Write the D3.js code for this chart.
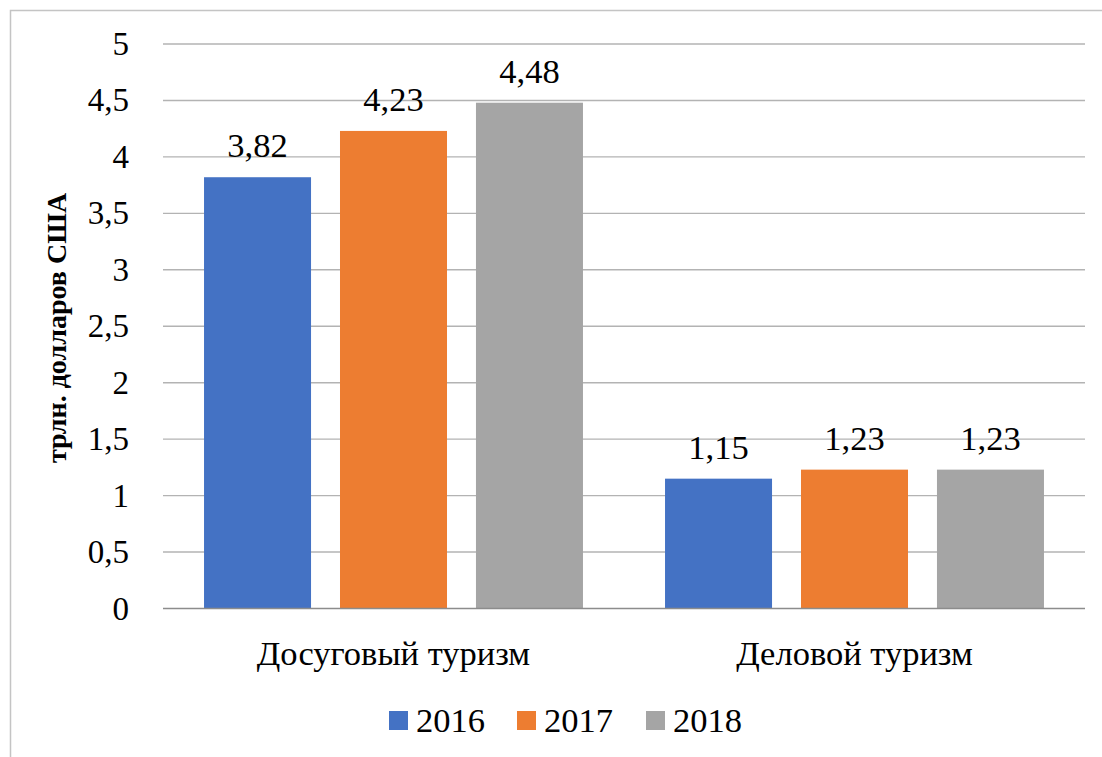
<!DOCTYPE html>
<html>
<head>
<meta charset="utf-8">
<script src="https://cdn.jsdelivr.net/npm/d3@7"></script>
<style>
  body { margin: 0; background: #fff; }
</style>
</head>
<body>
<svg id="chart" width="1102" height="757"></svg>
<script>
// chart values
var categories = ['Досуговый туризм', 'Деловой туризм'];
var years = ['2016', '2017', '2018'];
var values2016 = [3.82, 1.15];
var values2017 = [4.23, 1.23];
var values2018 = [4.48, 1.23];
var yTicks = [0, 0.5, 1, 1.5, 2, 2.5, 3, 3.5, 4, 4.5, 5];
var colors = ['#4472C4', '#ED7D31', '#A5A5A5'];
var yTitle = 'трлн. долларов США';

var seriesValues = [values2016, values2017, values2018];
var FONT = '"Times New Roman", "Liberation Serif", serif';
// above ~35px this font gets swapped for a sans one here, so stay just under
var BIG = 34.5;

var svg = d3.select('#chart');
var plot = { left: 163, right: 1085, top: 44, bottom: 608.5 };

// outer chart frame (runs off the right and bottom edges)
svg.append('rect')
  .attr('x', 10.5)
  .attr('y', 10.5)
  .attr('width', 1110)
  .attr('height', 770)
  .attr('fill', 'none')
  .attr('stroke', '#c4c4c4')
  .attr('stroke-width', 1.5);

var y = d3.scaleLinear().domain([0, 5]).range([plot.bottom, plot.top]);
var x0 = d3.scaleBand()
  .domain(categories)
  .range([plot.left, plot.right])
  .paddingInner(0.178)
  .paddingOuter(0.089);
var x1 = d3.scaleBand()
  .domain(years)
  .range([0, x0.bandwidth()])
  .paddingInner(0.213);

// gridlines
svg.append('g')
  .selectAll('line')
  .data(yTicks.filter(d => d > 0))
  .enter()
  .append('line')
  .attr('x1', plot.left)
  .attr('x2', plot.right)
  .attr('y1', d => y(d))
  .attr('y2', d => y(d))
  .attr('stroke', '#b3b3b3')
  .attr('stroke-width', 1.4);

// y tick labels
svg.append('g')
  .selectAll('text')
  .data(yTicks)
  .enter()
  .append('text')
  .attr('x', 129)
  .attr('y', d => y(d) + 11)
  .attr('text-anchor', 'end')
  .attr('font-family', FONT)
  .attr('font-size', 33)
  .text(d => String(d).replace('.', ','));

// bars
var rows = [];
categories.forEach(function(cat, i) {
  years.forEach(function(yr, j) {
    rows.push({ cat: cat, year: yr, value: seriesValues[j][i], color: colors[j] });
  });
});

var bars = svg.append('g');
bars.selectAll('rect')
  .data(rows)
  .enter()
  .append('rect')
  .attr('x', d => x0(d.cat) + x1(d.year))
  .attr('y', d => y(d.value))
  .attr('width', x1.bandwidth())
  .attr('height', d => y(0) - y(d.value))
  .attr('fill', d => d.color);

// value labels
bars.selectAll('text')
  .data(rows)
  .enter()
  .append('text')
  .attr('x', d => x0(d.cat) + x1(d.year) + x1.bandwidth() / 2)
  .attr('y', d => y(d.value) - 20)
  .attr('text-anchor', 'middle')
  .attr('font-family', FONT)
  .attr('font-size', BIG)
  .text(d => String(d.value).replace('.', ','));

// x axis line
svg.append('line')
  .attr('x1', plot.left)
  .attr('x2', plot.right)
  .attr('y1', y(0))
  .attr('y2', y(0))
  .attr('stroke', '#8c8c8c')
  .attr('stroke-width', 1.6);

// category labels
svg.append('g')
  .selectAll('text')
  .data(categories)
  .enter()
  .append('text')
  .attr('x', d => x0(d) + x0.bandwidth() / 2)
  .attr('y', 665)
  .attr('text-anchor', 'middle')
  .attr('font-family', FONT)
  .attr('font-size', BIG)
  .text(d => d);

// y axis title
svg.append('text')
  .attr('transform', 'translate(66,328) rotate(-90)')
  .attr('text-anchor', 'middle')
  .attr('font-family', FONT)
  .attr('font-size', 28)
  .attr('font-weight', 'bold')
  .text(yTitle);

// legend
var legendX = [389, 517, 646];
var legend = svg.append('g')
  .selectAll('g')
  .data(years)
  .enter()
  .append('g')
  .attr('transform', (d, i) => `translate(${legendX[i]},711)`);

legend.append('rect')
  .attr('width', 19)
  .attr('height', 19)
  .attr('fill', (d, i) => colors[i]);

legend.append('text')
  .attr('x', 27)
  .attr('y', 21)
  .attr('font-family', FONT)
  .attr('font-size', BIG)
  .text(d => d);
</script>
</body>
</html>
